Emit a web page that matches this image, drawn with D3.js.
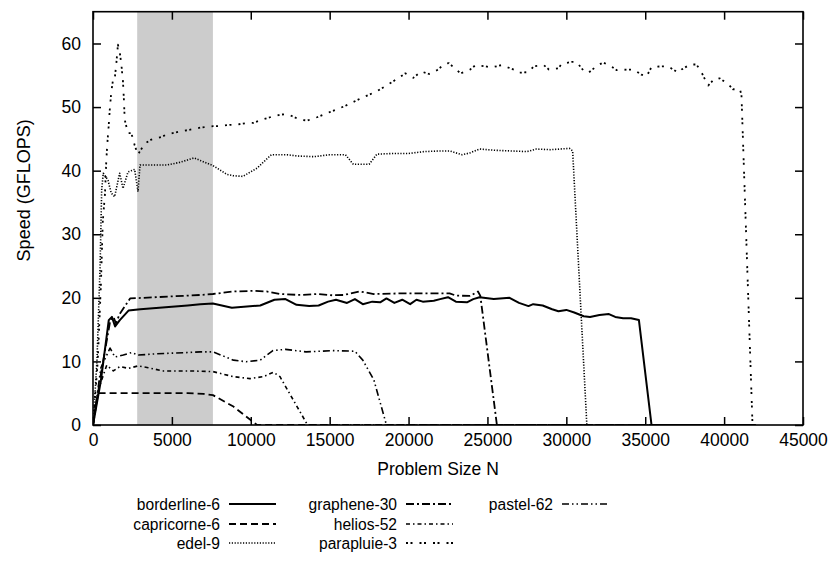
<!DOCTYPE html>
<html><head><meta charset="utf-8">
<script src="https://cdn.jsdelivr.net/npm/d3@7"></script>
<style>
html,body{margin:0;padding:0;background:#fff;}
text{font-family:"Liberation Sans",Arial,Helvetica,sans-serif;fill:#000;}
</style></head>
<body>
<svg id="chart" width="835" height="562"></svg>
<script>
// ---- data ----
const seriesNames = ["borderline-6","capricorne-6","edel-9","graphene-30","helios-52","parapluie-3","pastel-62"];
const borderline6 = [[0,0],[500,7],[1000,16.5],[1200,17],[1400,15.5],[1700,16.5],[2250,18],[3000,18.2],[4000,18.4],[5000,18.6],[6000,18.8],[6800,19.0],[7600,19.1],[8800,18.45],[10600,18.8],[11500,19.7],[12200,19.8],[12900,18.9],[13700,18.7],[14300,18.8],[14900,19.4],[15400,19.7],[16100,19.2],[16600,19.8],[17100,19.0],[17700,19.4],[18200,19.3],[18600,19.9],[19100,19.2],[19600,19.7],[20100,19.0],[20500,19.7],[20900,19.4],[21600,19.55],[22000,19.8],[22500,20.1],[23000,19.4],[23700,19.3],[24100,19.8],[24500,20.1],[25400,19.8],[25800,19.9],[26400,20.0],[27000,19.2],[27600,18.7],[27900,19.0],[28500,18.8],[29100,18.2],[29500,17.9],[30000,18.1],[30500,17.7],[31100,17.1],[31500,17.0],[32100,17.3],[32700,17.45],[33100,17.0],[33600,16.8],[34100,16.8],[34600,16.5],[35400,0],[42000,0]];
const capricorne6 = [[0,0],[300,5],[1000,5],[2000,5],[3000,5],[4000,5],[5000,5],[6000,5],[7000,4.9],[7600,4.7],[8900,2.9],[10400,0],[42000,0]];
const edel9 = [[0,0],[250,10],[450,25],[550,37],[650,39.6],[950,38.5],[1150,36.5],[1370,35.9],[1690,39.6],[1900,37.2],[2220,39.8],[2640,40.2],[2850,36.7],[2980,40.9],[4000,40.9],[4700,40.9],[5500,41.3],[6400,42],[7600,40.8],[8500,39.4],[8900,39.2],[9500,39.1],[10400,40.4],[11300,42.5],[12300,42.5],[13000,42.3],[14000,42.2],[15000,42.5],[16000,42.5],[16500,41.0],[17500,41.0],[18000,42.6],[19000,42.7],[20000,42.7],[21000,43.0],[22000,43.1],[22600,43.1],[23400,42.5],[23900,42.8],[24500,43.4],[25500,43.2],[26500,43.1],[27500,43.0],[28100,43.4],[29000,43.3],[30200,43.5],[30400,43.1],[31300,0],[42000,0]];
const graphene30 = [[0,0],[500,8],[1100,16.5],[1300,17],[1450,16],[1700,17.5],[2350,19.9],[4000,20.1],[6800,20.45],[7600,20.6],[8900,21.0],[10200,21.1],[11000,21.0],[11850,20.6],[13100,20.45],[14200,20.6],[15200,20.4],[15900,20.45],[16900,21.0],[17800,20.6],[19500,20.7],[21600,20.7],[22600,20.7],[23000,20.35],[23900,20.3],[24400,21.0],[24550,20.3],[25600,0],[42000,0]];
const helios52 = [[0,0],[400,6],[870,9.4],[1290,8.5],[1710,9.2],[2240,8.9],[2870,9.3],[3500,9],[4460,8.5],[6150,8.5],[7600,8.4],[8900,7.6],[9950,7.3],[10800,7.6],[11430,8.3],[11850,7.6],[13600,0],[42000,0]];
const parapluie3 = [[0,0],[300,10],[500,22],[620,32],[760,36.4],[840,41.4],[900,44],[990,46.9],[1060,49.5],[1160,52.4],[1270,54.3],[1370,54.3],[1480,56.9],[1580,59.8],[1690,58.7],[1790,56.9],[1900,54],[1960,51.1],[2010,48],[2220,45.9],[2430,45.9],[2640,44],[2850,42.5],[2960,43],[3300,44.3],[3700,44.9],[4350,45.3],[4670,45.7],[5400,46.1],[5830,46.3],[6460,46.6],[6890,46.8],[7620,47],[7940,47],[8680,47.2],[9000,47.2],[9740,47.5],[10160,47.5],[10800,48.1],[11220,48.4],[11850,48.8],[12270,48.9],[12600,48.6],[13100,48.0],[13600,47.9],[14200,48.4],[15000,49.2],[16000,50.2],[17000,51.4],[18000,52.5],[19000,54.0],[19800,55.3],[20300,54.6],[20800,55.6],[21300,55.2],[21800,55.8],[22300,56.8],[22560,56.9],[23300,55.3],[23900,55.9],[24250,56.6],[24880,56.4],[25200,56.2],[25900,56.6],[26780,55.8],[27000,55.4],[27600,55.5],[27930,56.4],[28570,56.6],[28900,55.9],[29500,56.1],[29700,56.8],[30350,57.1],[30650,57.1],[31100,55.7],[31400,55.4],[32000,56.6],[32350,57],[32900,56.3],[33200,55.8],[33900,55.9],[34250,55.9],[34760,55.1],[35080,54.8],[35400,56.3],[36000,56.4],[36450,56.4],[37100,55.4],[37300,55.9],[37840,56.7],[38250,56.7],[38580,55.4],[38800,54.3],[39000,53.4],[39400,54.5],[39730,54.5],[40260,53.6],[40570,52.8],[41000,52.8],[41100,51.9],[41800,0],[42000,0]];
const pastel62 = [[0,0],[500,9],[1080,12.1],[1390,10.7],[1920,11.0],[2450,11.4],[2870,11.0],[4040,11.2],[6000,11.4],[6800,11.5],[7600,11.5],[8900,10.2],[9700,9.95],[10600,10.2],[11400,11.7],[12200,11.9],[13500,11.5],[15200,11.7],[16600,11.6],[17100,10.2],[17800,7.1],[18600,0],[42000,0]];
const highlightRange = [2800, 7600];
const xTicks = [0,5000,10000,15000,20000,25000,30000,35000,40000,45000];
const yTicks = [0,10,20,30,40,50,60];
const xLabel = "Problem Size N";
const yLabel = "Speed (GFLOPS)";

// ---- styles ----
const styles = {
  "borderline-6": {dash: null, w: 2},
  "capricorne-6": {dash: "7,4", w: 1.8},
  "edel-9": {dash: "1.2,1.6", w: 1.6},
  "graphene-30": {dash: "8,3,2,3", w: 1.8},
  "helios-52": {dash: "4,3,1.5,3", w: 1.6},
  "parapluie-3": {dash: "2,2.5,2,7", w: 1.8},
  "pastel-62": {dash: "7,3,1.5,3,1.5,3", w: 1.6}
};
const seriesData = {"borderline-6":borderline6,"capricorne-6":capricorne6,"edel-9":edel9,"graphene-30":graphene30,"helios-52":helios52,"parapluie-3":parapluie3,"pastel-62":pastel62};

const svg = d3.select("#chart");
const L = 93, R = 803, T = 11.7, B = 425;
const x = d3.scaleLinear().domain([0,45000]).range([L,R]);
const y = d3.scaleLinear().domain([0,65]).range([B,T]);
const FS = 17.5, FSL = 15.6;

svg.append("defs").append("clipPath").attr("id","clip")
  .append("rect").attr("x",L).attr("y",T).attr("width",R-L).attr("height",B-T);

svg.append("rect").attr("x",x(highlightRange[0])).attr("y",T)
  .attr("width",x(highlightRange[1])-x(highlightRange[0])).attr("height",B-T)
  .attr("fill","#cccccc");

const line = d3.line().x(d=>x(d[0])).y(d=>y(d[1]));
const g = svg.append("g").attr("clip-path","url(#clip)");
seriesNames.forEach(n=>{
  const s = styles[n];
  g.append("path").datum(seriesData[n]).attr("d",line)
    .attr("fill","none").attr("stroke","#000").attr("stroke-width",s.w)
    .attr("stroke-dasharray",s.dash).attr("stroke-linejoin","round");
});

// axes with inward ticks (mirror)
const tickLen = 8;
const axB = svg.append("g").attr("transform",`translate(0,${B})`)
  .call(d3.axisBottom(x).tickValues(xTicks).tickSize(-tickLen).tickPadding(9).tickFormat(d3.format("d")));
const axT = svg.append("g").attr("transform",`translate(0,${T})`)
  .call(d3.axisTop(x).tickValues(xTicks).tickSize(-tickLen).tickFormat(""));
const axL = svg.append("g").attr("transform",`translate(${L},0)`)
  .call(d3.axisLeft(y).tickValues(yTicks).tickSize(-tickLen).tickPadding(12));
const axR = svg.append("g").attr("transform",`translate(${R},0)`)
  .call(d3.axisRight(y).tickValues(yTicks).tickSize(-tickLen).tickFormat(""));
[axB,axT,axL,axR].forEach(a=>{
  a.select(".domain").remove();
  a.selectAll("line").attr("stroke","#000").attr("stroke-width",1.5);
  a.selectAll("text").attr("font-size",FS).attr("font-family",null);
});
svg.append("rect").attr("x",L).attr("y",T).attr("width",R-L).attr("height",B-T)
  .attr("fill","none").attr("stroke","#000").attr("stroke-width",1.6);

svg.append("text").attr("x",(L+R)/2-10).attr("y",475).attr("text-anchor","middle")
  .attr("font-size",FS).text(xLabel);
svg.append("text").attr("transform",`translate(30,${(T+B)/2-28}) rotate(-90)`)
  .attr("text-anchor","middle").attr("font-size",18).text(yLabel);

// legend
const legendCols = [[0,1,2],[3,4,5],[6]];
const colText = [220, 397, 553];
const rowY = [504, 524, 543];
legendCols.forEach((col,ci)=>{
  col.forEach((si,ri)=>{
    const n = seriesNames[si], s = styles[n];
    svg.append("text").attr("x",colText[ci]).attr("y",rowY[ri]).attr("dy","0.36em")
      .attr("text-anchor","end").attr("font-size",FSL).text(n);
    svg.append("line").attr("x1",colText[ci]+9).attr("x2",colText[ci]+56)
      .attr("y1",rowY[ri]).attr("y2",rowY[ri]).attr("stroke","#000")
      .attr("stroke-width",s.w).attr("stroke-dasharray",s.dash);
  });
});
</script>
</body></html>
